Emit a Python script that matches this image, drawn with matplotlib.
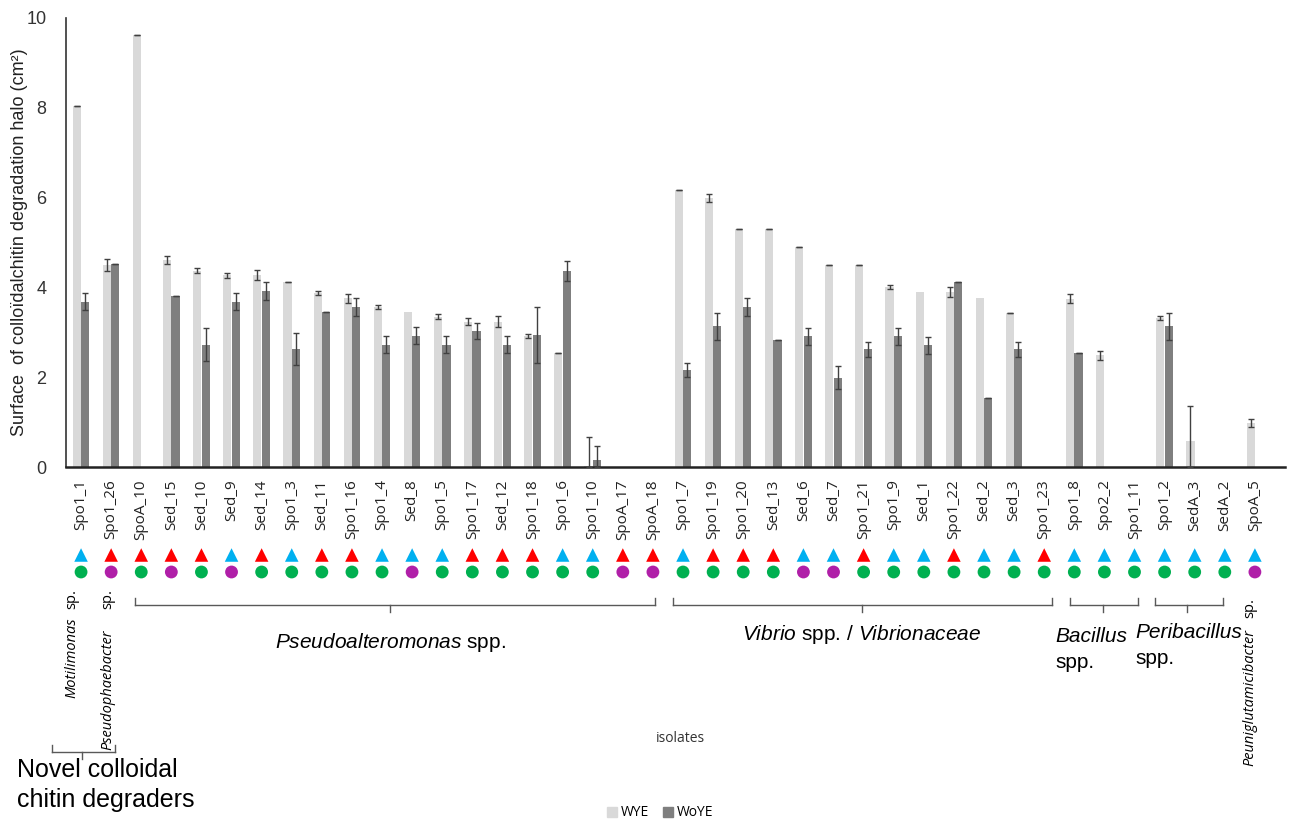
import numpy as np
import matplotlib
matplotlib.use("Agg")
import matplotlib.pyplot as plt
from matplotlib.patches import Patch
from matplotlib.lines import Line2D
from matplotlib.transforms import blended_transform_factory

plt.rcParams["mathtext.fontset"] = "custom"
plt.rcParams["mathtext.it"] = "Liberation Sans:italic"
plt.rcParams["mathtext.rm"] = "Liberation Sans"
plt.rcParams["mathtext.sf"] = "Liberation Sans"

# isolates, in plotting order
isolates = [
    "Spo1_1", "Spo1_26", "SpoA_10", "Sed_15", "Sed_10", "Sed_9", "Sed_14", "Spo1_3",
    "Sed_11", "Spo1_16", "Spo1_4", "Sed_8", "Spo1_5", "Spo1_17", "Sed_12", "Spo1_18",
    "Spo1_6", "Spo1_10", "SpoA_17", "SpoA_18", "Spo1_7", "Spo1_19", "Spo1_20", "Sed_13",
    "Sed_6", "Sed_7", "Spo1_21", "Spo1_9", "Sed_1", "Spo1_22", "Sed_2", "Sed_3",
    "Spo1_23", "Spo1_8", "Spo2_2", "Spo1_11", "Spo1_2", "SedA_3", "SedA_2", "SpoA_5",
]

nan = np.nan
# halo surface with yeast extract (cm2)
wye = [8.05, 4.50, 9.63, 4.61, 4.37, 4.27, 4.28, 4.13,
       3.88, 3.76, 3.56, 3.46, 3.35, 3.24, 3.24, 2.92,
       2.55, 0.02, 0, 0, 6.16, 5.99, 5.30, 5.30,
       4.90, 4.50, 4.50, 4.01, 3.90, 3.89, 3.76, 3.44,
       0, 3.75, 2.49, 0, 3.32, 0.58, 0, 0.98]
wye_err = [0, 0.13, 0, 0.09, 0.06, 0.06, 0.11, 0,
           0.05, 0.10, 0.05, nan, 0.05, 0.07, 0.13, 0.04,
           0, 0.64, nan, nan, 0, 0.08, 0, 0,
           0, 0, 0, 0.05, nan, 0.11, nan, 0,
           nan, 0.10, 0.10, nan, 0.05, 0.78, nan, 0.10]
# halo surface without yeast extract (cm2)
woye = [3.68, 4.52, 0, 3.80, 2.72, 3.68, 3.91, 2.63,
        3.46, 3.57, 2.72, 2.92, 2.72, 3.03, 2.72, 2.94,
        4.37, 0.15, 0, 0, 2.16, 3.13, 3.56, 2.82,
        2.91, 1.99, 2.62, 2.91, 2.71, 4.13, 1.54, 2.62,
        0, 2.54, 0, 0, 3.13, 0, 0, 0]
woye_err = [0.19, 0, nan, 0, 0.37, 0.19, 0.20, 0.35,
            0, 0.20, 0.19, 0.19, 0.19, 0.17, 0.19, 0.62,
            0.22, 0.31, nan, nan, 0.15, 0.30, 0.20, 0,
            0.19, 0.26, 0.16, 0.19, 0.19, 0, 0, 0.16,
            nan, 0, nan, nan, 0.30, nan, nan, nan]

# marker rows under the labels
tri_colors = list("brrrrbrbrrbbbrrrbbrrbrrrbbrbbrbbrbbbbbbb")
dot_colors = list("gpgpgpgggggpggggggppggggppgggggggggggggp")

W, H = 1295, 825
palette = {"b": "#00b0f0", "r": "#ff0000", "g": "#00b050", "p": "#b01fa8"}
light = "#d9d9d9"
dark = "#7f7f7f"
ecol = "#404040"


def px(x, y):
    return x / W, 1 - y / H


def bracket(fig, x0, x1, xc, y, up=7, down=7):
    kw = dict(color="#595959", lw=1, transform=fig.transFigure)
    fig.add_artist(Line2D([x0 / W, x1 / W], [1 - y / H] * 2, **kw))
    fig.add_artist(Line2D([x0 / W] * 2, [1 - y / H, 1 - (y - up) / H], **kw))
    fig.add_artist(Line2D([x1 / W] * 2, [1 - y / H, 1 - (y - up) / H], **kw))
    fig.add_artist(Line2D([xc / W] * 2, [1 - y / H, 1 - (y + down) / H], **kw))


fig = plt.figure(figsize=(W / 100, H / 100), dpi=100)
ax = fig.add_axes([66 / W, 1 - 467 / H, (1285 - 66) / W, (467 - 18) / H])

x = np.arange(len(isolates))
bw = 0.27
off = 0.14
ax.bar(x - off, wye, bw, color=light, zorder=2)
ax.bar(x + off, woye, bw, color=dark, zorder=2)

for vals, errs, shift in [(wye, wye_err, -off), (woye, woye_err, off)]:
    v = np.array(vals, float)
    e = np.array(errs, float)
    m = ~np.isnan(e)
    lower = np.minimum(e[m], v[m])
    ax.errorbar(x[m] + shift, v[m], yerr=[lower, e[m]], fmt="none",
                ecolor=ecol, elinewidth=1, capsize=2.5, capthick=1, zorder=3)

ax.set_xlim(-0.5, 40.0)
ax.set_ylim(0, 10)
ax.set_yticks([0, 2, 4, 6, 8, 10])
ax.set_xticks(x)
ax.set_xticklabels(isolates, rotation=90, va="top", ha="center",
                   family="Open Sans", fontsize=11)
ax.tick_params(axis="x", length=0, pad=9, colors="#222222")
ax.tick_params(axis="y", length=0, pad=14, labelsize=13, colors="#333333")
for lab in ax.get_yticklabels():
    lab.set_family("Liberation Sans")
for s in ["top", "right"]:
    ax.spines[s].set_visible(False)
ax.spines["left"].set_color("#333333")
ax.spines["left"].set_linewidth(1.2)
ax.spines["bottom"].set_color("#222222")
ax.spines["bottom"].set_linewidth(1.8)
ax.set_ylabel("Surface  of colloïdalchitin degradation halo (cm²)",
              family="Liberation Sans", fontsize=13, color="#222222")
ax.yaxis.set_label_coords(-38 / 1219, 0.5)

trans = blended_transform_factory(ax.transData, fig.transFigure)
ax.scatter(x, [1 - 555 / H] * len(x), marker="^", s=95,
           c=[palette[c] for c in tri_colors], transform=trans, clip_on=False, lw=0)
ax.scatter(x, [1 - 572 / H] * len(x), marker="o", s=85,
           c=[palette[c] for c in dot_colors], transform=trans, clip_on=False, lw=0)

# group brackets and names
bracket(fig, 135, 655, 390, 605)
bracket(fig, 673, 1052, 862, 605)
bracket(fig, 1070, 1138, 1103, 605)
bracket(fig, 1155, 1223, 1187, 605)
bracket(fig, 52, 115, 82, 752)

fig.text(*px(390, 643), r"$\mathit{Pseudoalteromonas}$ spp.", ha="center", va="center",
         family="Liberation Sans", fontsize=15)
fig.text(*px(862, 634), r"$\mathit{Vibrio}$ spp. / $\mathit{Vibrionaceae}$", ha="center",
         va="center", family="Liberation Sans", fontsize=15)
fig.text(*px(1055, 636), "Bacillus", ha="left", va="center", style="italic",
         family="Liberation Sans", fontsize=15)
fig.text(*px(1055, 663), "spp.", ha="left", va="center",
         family="Liberation Sans", fontsize=15)
fig.text(*px(1135, 633), "Peribacillus", ha="left", va="center", style="italic",
         family="Liberation Sans", fontsize=15)
fig.text(*px(1135, 659), "spp.", ha="left", va="center",
         family="Liberation Sans", fontsize=15)

for xc, name, top, bottom in [(72, "Motilimonas", 589, 698),
                              (108, "Pseudophaebacter", 589, 750),
                              (1250, "Peuniglutamicibacter", 598, 766)]:
    fig.text(*px(xc, top), "sp.", rotation=90, ha="center", va="top",
             family="Open Sans", fontsize=10.5)
    fig.text(*px(xc, bottom), name, rotation=90, ha="center", va="bottom",
             style="italic", family="Open Sans", fontsize=10.5)

fig.text(*px(17, 785), "Novel colloidal\nchitin degraders", ha="left", va="center",
         family="Liberation Sans", fontsize=18, linespacing=1.3)
fig.text(*px(680, 738), "isolates", ha="center", va="center",
         family="Open Sans", fontsize=10, color="#333333")

handles = [Patch(color=light, label="WYE"), Patch(color=dark, label="WoYE")]
fig.legend(handles=handles, loc="center", bbox_to_anchor=px(660, 813), ncol=2,
           frameon=False, prop={"family": "Open Sans", "size": 10},
           handlelength=0.7, handleheight=0.7, handletextpad=0.3, columnspacing=1.0)

fig.savefig("out.png", dpi=100)
